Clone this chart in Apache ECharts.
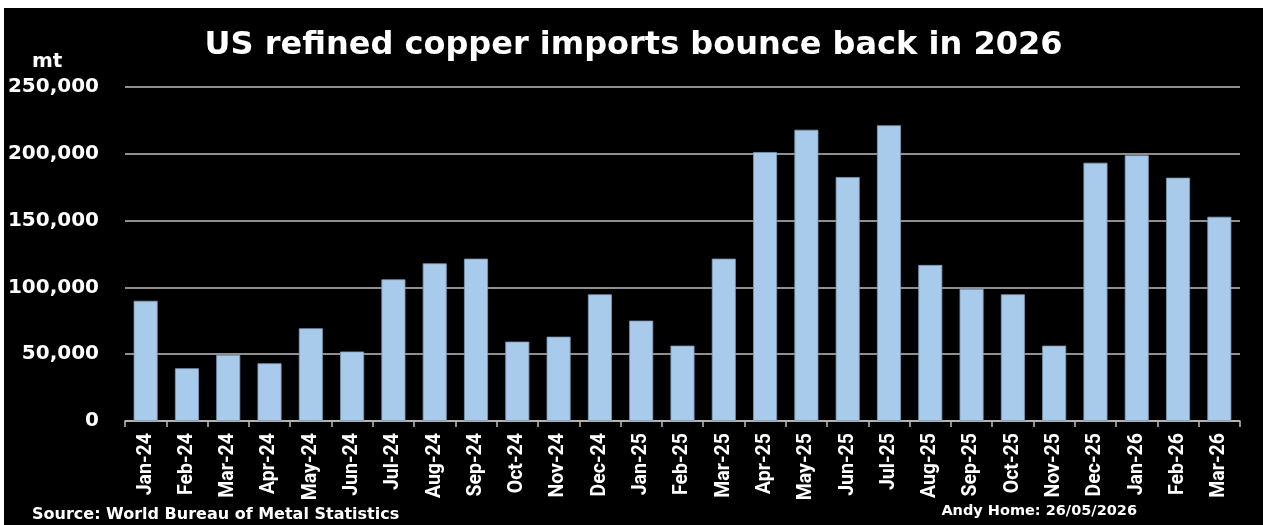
<!DOCTYPE html>
<html>
<head>
<meta charset="utf-8">
<script src="https://cdn.jsdelivr.net/npm/echarts@6/dist/echarts.min.js"></script>
<style>
  html, body { margin: 0; padding: 0; background: #ffffff; width: 1263px; height: 525px; overflow: hidden; }
  #chart { position: absolute; left: 4px; top: 8px; width: 1259px; height: 517px; background: #000000; }
</style>
</head>
<body>
<div id="chart"></div>
<script>
const titleText = 'US refined copper imports bounce back in 2026';
const unitLabel = 'mt';
const sourceText = 'Source: World Bureau of Metal Statistics';
const creditText = 'Andy Home: 26/05/2026';
const categories = ['Jan-24','Feb-24','Mar-24','Apr-24','May-24','Jun-24','Jul-24','Aug-24','Sep-24','Oct-24','Nov-24','Dec-24',
  'Jan-25','Feb-25','Mar-25','Apr-25','May-25','Jun-25','Jul-25','Aug-25','Sep-25','Oct-25','Nov-25','Dec-25',
  'Jan-26','Feb-26','Mar-26'];
const imports = [90000, 39500, 49500, 43200, 69400, 52000, 106000, 118000, 121500, 59400, 63100, 94800,
  75100, 56400, 121500, 201300, 218000, 182600, 221300, 116800, 99000, 94800, 56400, 193300,
  198900, 182100, 152900];
const yTicks = [0, 50000, 100000, 150000, 200000, 250000];

const chart = echarts.init(document.getElementById('chart'), null, { renderer: 'canvas' });
const boldWide = '"DejaVu Sans", "Liberation Sans", sans-serif';
chart.setOption({
  backgroundColor: '#000000',
  animation: false,
  title: {
    text: titleText,
    left: 'center',
    top: 17,
    textStyle: { color: '#ffffff', fontFamily: boldWide, fontWeight: 'bold', fontSize: 32 }
  },
  grid: { left: 121, right: 23, top: 79, bottom: 104, containLabel: false },
  xAxis: {
    type: 'category',
    data: categories,
    boundaryGap: true,
    axisLine: { show: true, lineStyle: { color: '#bfbfbf', width: 1.5 } },
    axisTick: { show: true, alignWithLabel: false, length: 6, lineStyle: { color: '#bfbfbf', width: 1.5 } },
    axisLabel: {
      interval: 0, rotate: 90, margin: 12,
      color: '#ffffff', fontFamily: 'Roboto, sans-serif', fontWeight: 'bold', fontSize: 19.5
    }
  },
  yAxis: {
    type: 'value',
    min: yTicks[0],
    max: yTicks[yTicks.length - 1],
    interval: 50000,
    axisLine: { show: false },
    axisTick: { show: false },
    splitLine: { show: true, lineStyle: { color: '#bfbfbf', width: 1.5 } },
    axisLabel: {
      margin: 26,
      color: '#ffffff', fontFamily: boldWide, fontWeight: 'bold', fontSize: 20,
      formatter: v => v.toLocaleString('en-US')
    }
  },
  series: [{
    type: 'bar',
    data: imports,
    barWidth: 24,
    itemStyle: { color: '#a8caeb', borderColor: '#7f9ab5', borderWidth: 0.8 }
  }],
  graphic: [
    { type: 'text', left: 28, top: 44, style: { text: unitLabel, fill: '#ffffff', font: 'bold 20px ' + boldWide } },
    { type: 'text', left: 28, top: 499, style: { text: sourceText, fill: '#ffffff', font: 'bold 16px ' + boldWide } },
    { type: 'text', right: 126, top: 496, style: { text: creditText, fill: '#ffffff', font: 'bold 14.5px ' + boldWide } }
  ]
});
</script>
</body>
</html>
